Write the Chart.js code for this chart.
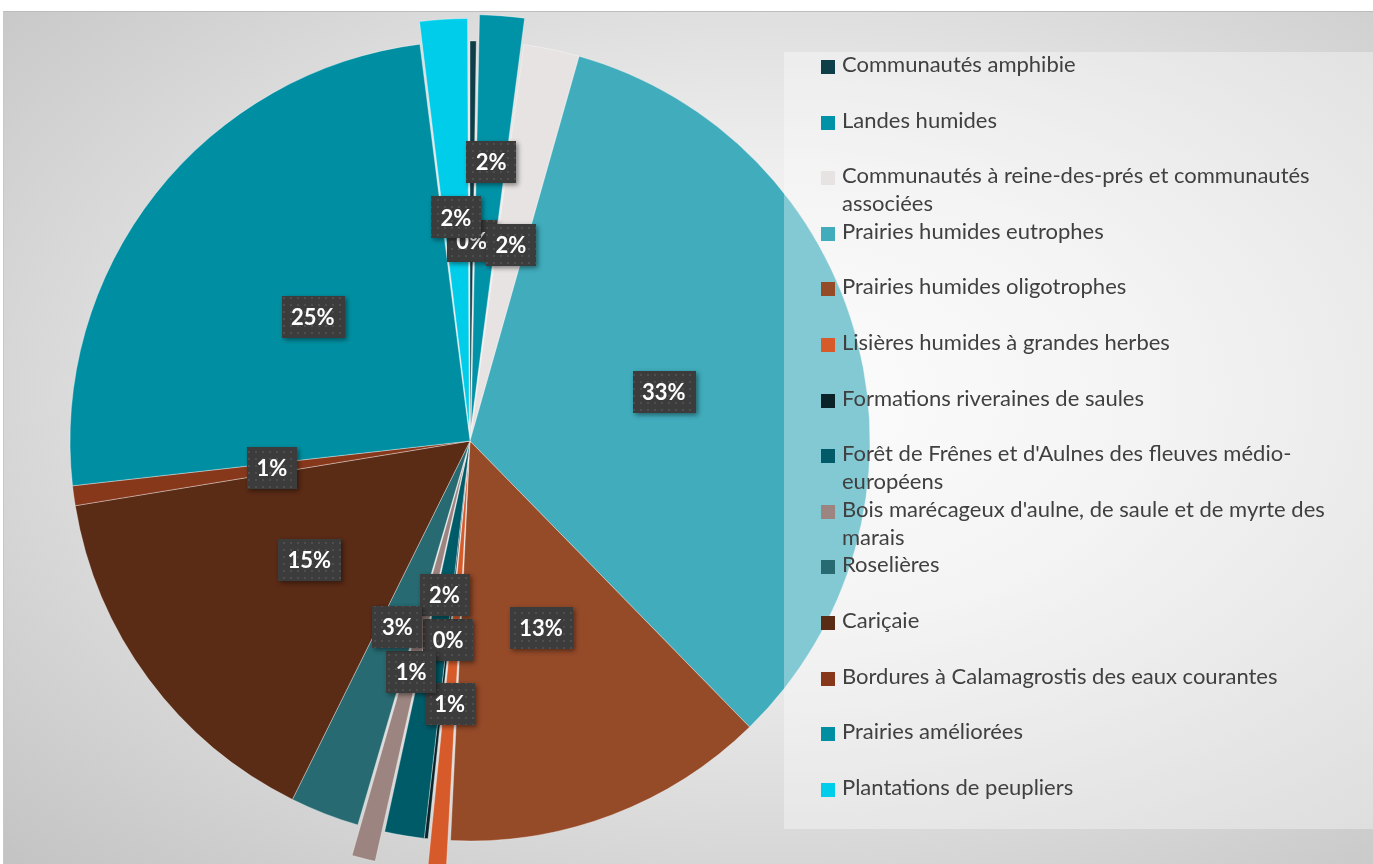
<!DOCTYPE html>
<html lang="fr">
<head>
<meta charset="utf-8">
<title>Habitats humides</title>
<script src="https://cdn.jsdelivr.net/npm/chart.js@4.4.1/dist/chart.umd.min.js"></script>
<style>
  html, body { margin: 0; padding: 0; width: 1373px; height: 864px; overflow: hidden; background: #fff; }
  #card {
    position: absolute; left: 3px; top: 11px; width: 1370px; height: 853px;
    border-top: 1px solid #bdbdbd; border-left: 1px solid #c8c8c8;
    background: radial-gradient(farthest-corner at 56% 45%, #fbfbfb 0%, #eeeeee 35%, #c3c3c3 100%);
  }
  #wrap { position: absolute; left: 0; top: 0; width: 1373px; height: 864px; }
  #legendBox {
    position: absolute; left: 784px; top: 52px; width: 589px; height: 777px;
    background: rgba(255, 255, 255, 0.35);
  }
  .item {
    position: absolute; left: 37px; width: 545px;
    font-family: Lato, "Open Sans", sans-serif; font-size: 22px; line-height: 28px; color: #404040;
  }
  .item .box { position: absolute; left: 0; top: 10px; width: 14px; height: 14px; }
  .item .txt { display: block; margin-left: 21px; width: 512px; }
</style>
</head>
<body>
<div id="card"></div>
<div id="wrap"><canvas id="habitatChart"></canvas></div>
<div id="legendBox"></div>

<script>
// Habitat types and their share of the surveyed wetland area (%)
var habitats = [
  'Communautés amphibie',
  'Landes humides',
  'Communautés à reine-des-prés et communautés associées',
  'Prairies humides eutrophes',
  'Prairies humides oligotrophes',
  'Lisières humides à grandes herbes',
  'Formations riveraines de saules',
  "Forêt de Frênes et d'Aulnes des fleuves médio-européens",
  "Bois marécageux d'aulne, de saule et de myrte des marais",
  'Roselières',
  'Cariçaie',
  'Bordures à Calamagrostis des eaux courantes',
  'Prairies améliorées',
  'Plantations de peupliers'
];
var shares = [0.25, 1.9, 2.25, 33.3, 13.1, 0.9, 0.15, 1.6, 1.1, 2.8, 15.1, 0.8, 24.8, 2.0];

var sliceColors = [
  '#0e3e48', '#0093a8', '#e8e3e3', '#40acbc', '#954a28', '#d75b2a', '#0a2329',
  '#005b68', '#9c8480', '#276a72', '#5a2b15', '#87381b', '#008fa2', '#00cdea'
];
// pulled-out slices (Chart.js moves an arc out by about half its offset)
var explode = [0, 56, 0, 0, 0, 64, 0, 0, 64, 0, 0, 0, 0, 48];
// how far out along each slice the percentage tag sits (fraction of radius)
var labelRadius = [0.5, 0.63, 0.5, 0.5, 0.5, 0.58, 0.5, 0.39, 0.515, 0.5, 0.5, 0.5, 0.5, 0.5];

// dark dotted fill for the percentage tags
function makeTagPattern(ctx) {
  var tile = document.createElement('canvas');
  tile.width = 7; tile.height = 7;
  var t = tile.getContext('2d');
  t.fillStyle = '#3c3c3c';
  t.fillRect(0, 0, 7, 7);
  t.fillStyle = '#4e4e4e';
  t.fillRect(3, 3, 2, 2);
  return ctx.createPattern(tile, 'repeat');
}

var pctLabels = {
  id: 'pctLabels',
  afterDatasetsDraw: function(chart) {
    var ctx = chart.ctx;
    var meta = chart.getDatasetMeta(0);
    var total = shares.reduce(function(a, b) { return a + b; }, 0);
    var pattern = makeTagPattern(ctx);
    ctx.save();
    ctx.font = 'bold 22px Lato, "Open Sans", sans-serif';
    ctx.textAlign = 'center';
    ctx.textBaseline = 'middle';
    meta.data.forEach(function(arc, i) {
      var p = arc.getProps(['x', 'y', 'startAngle', 'endAngle', 'outerRadius']);
      var mid = (p.startAngle + p.endAngle) / 2;
      var r = labelRadius[i] * p.outerRadius + explode[i] / 2;
      var cx = p.x + Math.cos(mid) * r;
      var cy = p.y + Math.sin(mid) * r;
      var text = Math.round(shares[i] / total * 100) + '%';
      var w = ctx.measureText(text).width + 19;
      var h = 42;
      ctx.shadowColor = 'rgba(0,0,0,0.45)';
      ctx.shadowBlur = 5;
      ctx.shadowOffsetX = 2;
      ctx.shadowOffsetY = 2;
      ctx.fillStyle = pattern;
      ctx.fillRect(Math.round(cx - w / 2), Math.round(cy - h / 2), Math.round(w), h);
      ctx.shadowColor = 'transparent';
      ctx.fillStyle = '#ffffff';
      ctx.fillText(text, cx, cy + 1);
    });
    ctx.restore();
  }
};

var habitatConfig = {
  type: 'pie',
  data: {
    labels: habitats,
    datasets: [{
      data: shares,
      backgroundColor: sliceColors,
      borderColor: 'rgba(255,255,255,0.35)',
      borderWidth: 1,
      offset: explode,
      clip: false
    }]
  },
  options: {
    responsive: true,
    maintainAspectRatio: false,
    animation: false,
    radius: 400,
    layout: { padding: { left: 0, top: 18, right: 433, bottom: 0 } },
    plugins: {
      legend: { display: false },
      tooltip: { enabled: false },
      title: { display: false }
    }
  },
  plugins: [pctLabels]
};

// legend on the right, one row per habitat
function buildLegend() {
  var box = document.getElementById('legendBox');
  habitats.forEach(function(name, i) {
    var item = document.createElement('div');
    item.className = 'item';
    item.style.top = (-2 + i * 55.6) + 'px';
    var sw = document.createElement('span');
    sw.className = 'box';
    sw.style.background = sliceColors[i];
    var txt = document.createElement('span');
    txt.className = 'txt';
    txt.textContent = name;
    item.appendChild(sw);
    item.appendChild(txt);
    box.appendChild(item);
  });
}

window.onload = function() {
  buildLegend();
  var ctx = document.getElementById('habitatChart').getContext('2d');
  window.habitatChart = new Chart(ctx, habitatConfig);
};
</script>
</body>
</html>
